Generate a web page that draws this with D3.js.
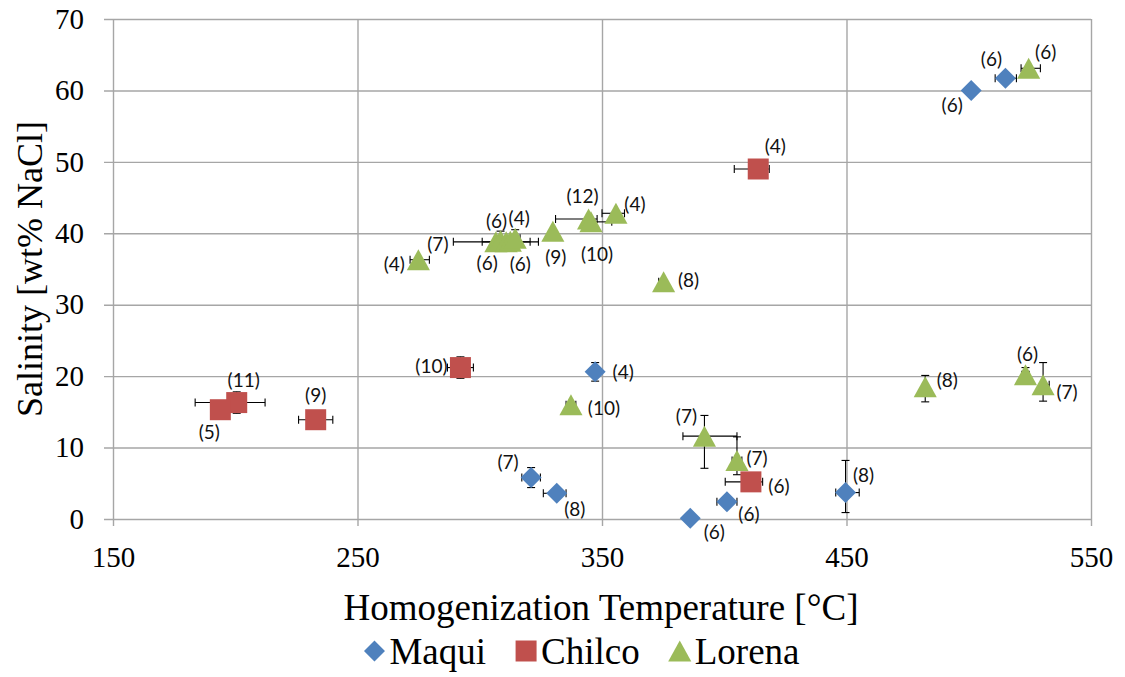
<!DOCTYPE html>
<html>
<head>
<meta charset="utf-8">
<script src="https://cdn.jsdelivr.net/npm/d3@7"></script>
<style>
  body { margin: 0; background: #fff; }
  svg { display: block; }
  .serif { font-family: "Liberation Serif", "Tinos", "DejaVu Serif", "Noto Serif", serif; }
  .lbl { font-family: Lato, "Open Sans", sans-serif; }
</style>
</head>
<body>
<svg id="chart" width="1125" height="677"></svg>
<script>
// ---- data ----
const seriesNames = ["Maqui", "Chilco", "Lorena"];
const xTicks = [150, 250, 350, 450, 550];
const yTicks = [0, 10, 20, 30, 40, 50, 60, 70];

// Maqui: homogenization temperature (°C), salinity (wt% NaCl), inclusion count
const maquiTemp = [501.0, 515.0, 347.2, 321.0, 331.5, 386.1, 401.1, 449.6];
const maquiSal  = [60.0, 61.7, 20.6, 5.8, 3.6, 0.1, 2.4, 3.7];
const maquiN    = [6, 6, 4, 7, 8, 6, 6, 8];
const maquiTempErr = [[0, 0], [4.2, 4.5], [0, 0], [3.8, 3.8], [5.5, 3.8], [0, 0], [4.1, 4.1], [4.0, 5.6]];
const maquiSalErr  = [[0, 0], [0, 0], [1.3, 1.3], [1.4, 1.4], [0, 0], [0, 0], [0, 0], [2.8, 4.5]];

// Chilco
const chilcoTemp = [413.9, 292.1, 200.6, 193.9, 232.9, 410.9];
const chilcoSal  = [49.0, 21.2, 16.3, 15.3, 13.9, 5.2];
const chilcoN    = [4, 10, 11, 5, 9, 6];
const chilcoTempErr = [[9.8, 4.5], [5.3, 5.3], [17.0, 11.6], [0, 0], [7.0, 7.0], [10.5, 4.8]];
const chilcoSalErr  = [[0, 0], [1.5, 1.5], [1.5, 1.5], [0, 0], [0, 0], [0, 0]];

// Lorena
const lorenaTemp = [524.5, 274.9, 306.6, 308.5, 310.8, 312.5, 314.5, 329.9, 344.5, 345.5, 355.7, 375.2, 337.3, 391.9, 405.2, 482.2, 523.2, 530.4];
const lorenaSal  = [63.1, 36.3, 38.8, 39.0, 38.8, 38.9, 39.3, 40.3, 42.0, 41.6, 42.8, 33.2, 16.0, 11.6, 8.2, 18.5, 20.2, 18.8];
const lorenaN    = [6, 4, 7, 6, 6, 6, 4, 9, 12, 10, 4, 8, 10, 7, 7, 8, 6, 7];
const lorenaTempErr = [[3.1, 4.8], [3.4, 4.5], [17.4, 17.4], [1.5, 1.5], [9.8, 9.8], [0, 0], [2, 2], [0, 0], [13.5, 3.5], [1, 8.5], [5.7, 3.5], [2, 0], [2, 2], [8.8, 13.3], [2, 2], [0, 0], [1.5, 1.5], [0, 2.5]];
const lorenaSalErr  = [[0, 0], [0, 0], [0, 0], [1.3, 1.3], [0, 0], [0, 0], [1.2, 1.2], [0, 0], [0, 0], [0, 0], [0, 0], [0, 0], [0, 0], [4.5, 2.9], [2.0, 3.3], [2.1, 1.6], [1, 1], [2.3, 3.1]];

// ---- label placement (pixel offsets from marker centre) ----
const maquiLabelOffset  = [[-19, 14], [-14, -20], [28, 0], [-23, -16], [18, 15], [24, 13], [22, 12], [18, -18]];
const chilcoLabelOffset = [[17, -24], [-29, -2], [7, -23], [-11, 22], [0, -25], [28, 4]];
const lorenaLabelOffset = [[17, -17], [-24, 4], [-58, 2], [-4, -20], [-19, 21], [10, 22], [4, -21], [3, 25], [-6, -24], [6, 32], [19, -10], [25, -2], [33, 3], [-18, -21], [20, -3], [22, -7], [2, -21], [24, 7]];

// ---- style ----
const colors = { Maqui: "#4f81bd", Chilco: "#c0504d", Lorena: "#9bbb59" };
const shapes = { Maqui: "diamond", Chilco: "square", Lorena: "triangle" };

function buildSeries(name, temp, sal, n, tErr, sErr, offs) {
  return temp.map((t, i) => ({
    series: name, t, s: sal[i], n: n[i],
    tm: tErr[i][0], tp: tErr[i][1], sm: sErr[i][0], sp: sErr[i][1],
    off: offs[i]
  }));
}
const series = [
  { name: "Maqui",  points: buildSeries("Maqui",  maquiTemp,  maquiSal,  maquiN,  maquiTempErr,  maquiSalErr,  maquiLabelOffset) },
  { name: "Chilco", points: buildSeries("Chilco", chilcoTemp, chilcoSal, chilcoN, chilcoTempErr, chilcoSalErr, chilcoLabelOffset) },
  { name: "Lorena", points: buildSeries("Lorena", lorenaTemp, lorenaSal, lorenaN, lorenaTempErr, lorenaSalErr, lorenaLabelOffset) }
];

// ---- layout ----
const svg = d3.select("#chart");
const plotLeft = 113, plotRight = 1091, plotTop = 19, plotBottom = 519;
const x = d3.scaleLinear().domain([150, 550]).range([plotLeft, plotRight]);
const y = d3.scaleLinear().domain([0, 70]).range([plotBottom, plotTop]);
const gridColor = "#a6a6a6";

// horizontal gridlines + y tick labels
const yAxis = svg.append("g")
  .attr("transform", `translate(${plotLeft - 9},0)`)
  .call(d3.axisLeft(y).tickValues(yTicks).tickFormat(d3.format("d"))
    .tickSizeInner(-(plotRight - plotLeft + 9)).tickSizeOuter(0).tickPadding(20));
yAxis.attr("font-family", null).attr("font-size", null);
yAxis.select(".domain").remove();
yAxis.selectAll(".tick line").attr("stroke", gridColor).attr("stroke-width", 1.4);
yAxis.selectAll(".tick text").attr("class", "serif").style("font-size", "29px").attr("fill", "#000");

// vertical gridlines + x tick labels
const xAxis = svg.append("g")
  .attr("transform", `translate(0,${plotBottom + 7})`)
  .call(d3.axisBottom(x).tickValues(xTicks).tickFormat(d3.format("d"))
    .tickSizeInner(-(plotBottom + 7 - plotTop)).tickSizeOuter(0).tickPadding(20));
xAxis.attr("font-family", null).attr("font-size", null);
xAxis.select(".domain").remove();
xAxis.selectAll(".tick line").attr("stroke", gridColor).attr("stroke-width", 1.4);
xAxis.selectAll(".tick text").attr("class", "serif").style("font-size", "29px").attr("fill", "#000");

// axis titles
svg.append("text").attr("class", "serif")
  .attr("x", 601).attr("y", 607)
  .attr("text-anchor", "middle").attr("dominant-baseline", "central")
  .style("font-size", "37px")
  .text("Homogenization Temperature [°C]");
svg.append("text").attr("class", "serif")
  .attr("transform", `translate(30,${(plotTop + plotBottom) / 2}) rotate(-90)`)
  .attr("text-anchor", "middle").attr("dominant-baseline", "central")
  .style("font-size", "36px")
  .text("Salinity [wt% NaCl]");

// marker path generator
function markerPath(shape, size) {
  const h = size / 2;
  if (shape === "diamond") return `M0,${-h}L${h},0L0,${h}L${-h},0Z`;
  if (shape === "square") return `M${-h},${-h}H${h}V${h}H${-h}Z`;
  const w = size * 1.1 / 2;
  return `M0,${-h}L${w},${h}L${-w},${h}Z`;
}

// error bars
const cap = 4;
const errG = svg.append("g").attr("stroke", "#000").attr("stroke-width", 1.1).attr("fill", "none");
series.forEach(sr => {
  sr.points.forEach(p => {
    const cx = x(p.t), cy = y(p.s);
    if (p.tm > 0 || p.tp > 0) {
      const x0 = x(p.t - p.tm), x1 = x(p.t + p.tp);
      errG.append("line").attr("x1", x0).attr("x2", x1).attr("y1", cy).attr("y2", cy);
      if (p.tm > 0) errG.append("line").attr("x1", x0).attr("x2", x0).attr("y1", cy - cap).attr("y2", cy + cap);
      if (p.tp > 0) errG.append("line").attr("x1", x1).attr("x2", x1).attr("y1", cy - cap).attr("y2", cy + cap);
    }
    if (p.sm > 0 || p.sp > 0) {
      const y0 = y(p.s - p.sm), y1 = y(p.s + p.sp);
      errG.append("line").attr("x1", cx).attr("x2", cx).attr("y1", y0).attr("y2", y1);
      if (p.sm > 0) errG.append("line").attr("x1", cx - cap).attr("x2", cx + cap).attr("y1", y0).attr("y2", y0);
      if (p.sp > 0) errG.append("line").attr("x1", cx - cap).attr("x2", cx + cap).attr("y1", y1).attr("y2", y1);
    }
  });
});

// markers
const sizes = { diamond: 21, square: 21, triangle: 21 };
series.forEach(sr => {
  svg.append("g").selectAll("path").data(sr.points).join("path")
    .attr("transform", d => `translate(${x(d.t)},${y(d.s)})`)
    .attr("d", markerPath(shapes[sr.name], sizes[shapes[sr.name]]))
    .attr("fill", colors[sr.name]);
});

// data labels (number of inclusions)
series.forEach(sr => {
  svg.append("g").selectAll("text").data(sr.points).join("text")
    .attr("class", "lbl")
    .attr("x", d => x(d.t) + d.off[0])
    .attr("y", d => y(d.s) + d.off[1])
    .attr("text-anchor", "middle").attr("dominant-baseline", "central")
    .style("font-size", "19px").attr("fill", "#111")
    .text(d => `(${d.n})`);
});

// legend
const legendY = 651;
const legend = svg.append("g");
const items = legend.selectAll("g").data(seriesNames).join("g");
items.append("path")
  .attr("d", d => markerPath(shapes[d], 21))
  .attr("fill", d => colors[d]);
items.append("text").attr("class", "serif")
  .attr("x", 15).attr("y", 0).attr("dominant-baseline", "central")
  .style("font-size", "37px")
  .text(d => d);
const widths = [];
items.each(function () {
  widths.push(d3.select(this).select("text").node().getComputedTextLength());
});
const gap = 30;
const total = d3.sum(widths.map(w => 25 + w)) + gap * (widths.length - 1);
let cursor = 582 - total / 2 + 10;
items.attr("transform", (d, i) => {
  const tx = cursor;
  cursor += 25 + widths[i] + gap;
  return `translate(${tx},${legendY})`;
});
</script>
</body>
</html>
